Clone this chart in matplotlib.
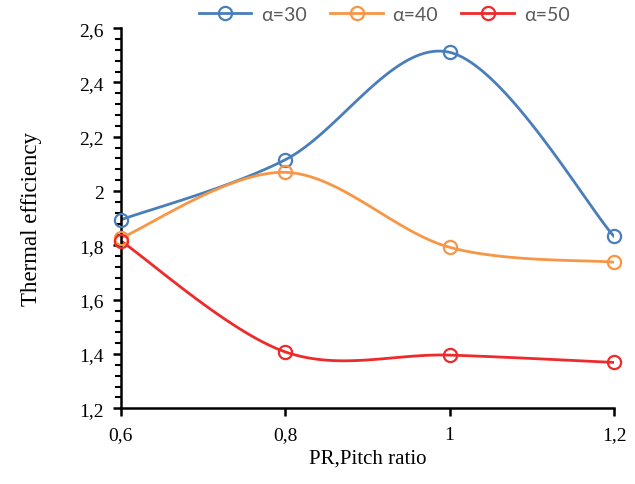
import numpy as np
import matplotlib
matplotlib.use("Agg")
import matplotlib.pyplot as plt
from matplotlib.ticker import FuncFormatter, MultipleLocator

pitch_ratio = [0.6, 0.8, 1.0, 1.2]
eff_a30 = [1.894, 2.115, 2.511, 1.833]
eff_a40 = [1.827, 2.069, 1.793, 1.738]
eff_a50 = [1.817, 1.408, 1.396, 1.369]
labels = ["α=30", "α=40", "α=50"]
colors = ["#4a7ebb", "#f79646", "#ee2a2a"]


def smooth(x, y, n=40):
    # excel-like smoothed line: catmull-rom bezier between points
    p = np.column_stack([x, y]).astype(float)
    pts = np.vstack([p[0], p, p[-1]])
    t = np.linspace(0, 1, n)[:, None]
    out = []
    for i in range(1, len(pts) - 2):
        p0, p1, p2, p3 = pts[i - 1], pts[i], pts[i + 1], pts[i + 2]
        c1 = p1 + (p2 - p0) / 6
        c2 = p2 - (p3 - p1) / 6
        seg = ((1 - t) ** 3) * p1 + 3 * ((1 - t) ** 2) * t * c1 + 3 * (1 - t) * t ** 2 * c2 + t ** 3 * p2
        out.append(seg if i == 1 else seg[1:])
    s = np.vstack(out)
    return s[:, 0], s[:, 1]


plt.rcParams["font.family"] = ["Liberation Serif", "DejaVu Serif"]
fig = plt.figure(figsize=(6.35, 4.85), dpi=100)
ax = fig.add_axes([0.190, 0.156, 0.777, 0.784])

handles = []
for ys, lab, c in zip([eff_a30, eff_a40, eff_a50], labels, colors):
    sx, sy = smooth(pitch_ratio, ys)
    ax.plot(sx, sy, color=c, lw=2, zorder=2)
    ax.plot(pitch_ratio, ys, ls="none", marker="o", ms=9.5, mfc="none",
            mec=c, mew=1.6, zorder=3, clip_on=False)
    h, = ax.plot([], [], color=c, lw=2, marker="o", ms=9.5, mfc="none", mec=c, mew=1.6, label=lab)
    handles.append(h)

ax.set_xlim(0.6, 1.2)
ax.set_ylim(1.2, 2.6)
ax.xaxis.set_major_locator(MultipleLocator(0.2))
ax.yaxis.set_major_locator(MultipleLocator(0.2))
ax.yaxis.set_minor_locator(MultipleLocator(0.04))
fmt = FuncFormatter(lambda v, pos: ("%g" % round(v, 2)).replace(".", ","))
ax.xaxis.set_major_formatter(fmt)
ax.yaxis.set_major_formatter(fmt)

for s in ["top", "right"]:
    ax.spines[s].set_visible(False)
for s in ["left", "bottom"]:
    ax.spines[s].set_linewidth(1.8)
ax.tick_params(axis="both", which="major", direction="out", length=6, width=1.8, labelsize=14)
ax.tick_params(axis="y", which="minor", direction="out", length=4, width=1.5)
ax.tick_params(axis="x", pad=7)
ax.tick_params(axis="y", pad=6)

ax.set_xlabel("PR,Pitch ratio", fontsize=15, labelpad=4)
ax.set_ylabel("Thermal efficiency", fontsize=16.5, labelpad=27)

leg = fig.legend(handles=handles, loc="center", bbox_to_anchor=(0.605, 0.969), ncol=3,
                 frameon=False, handlelength=2.7, columnspacing=1.2, handletextpad=0.5,
                 prop={"family": ["Lato", "DejaVu Sans"], "size": 14})
for t in leg.get_texts():
    t.set_color("#595959")

fig.savefig("out.png", dpi=100)
